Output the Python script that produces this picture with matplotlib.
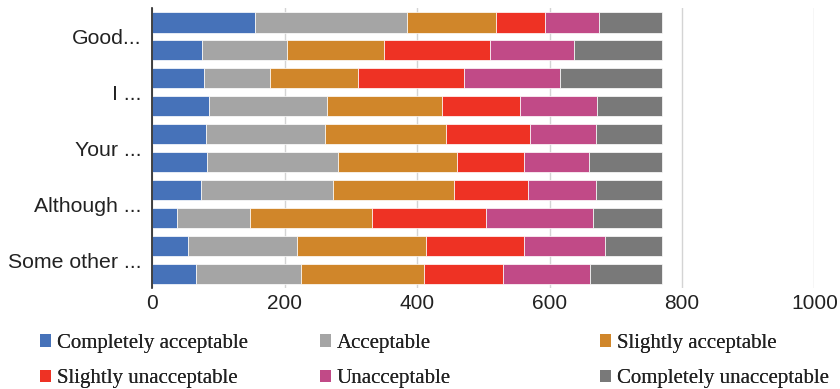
import matplotlib
matplotlib.use("Agg")
from matplotlib import pyplot as plt
from matplotlib.patches import Patch
import numpy as np

SERIES = ["Completely acceptable", "Acceptable", "Slightly acceptable",
          "Slightly unacceptable", "Unacceptable", "Completely unacceptable"]
COLORS = ["#4672B9", "#A5A5A5", "#D0862A", "#EE3224", "#C14A87", "#797979"]
GROUP_LABELS = ["Good...", "I ...", "Your ...", "Although ...", "Some other ..."]

# one row per bar (top to bottom), one column per response level
completely_acceptable = [155, 75, 78, 86, 81, 82, 73, 37, 54, 66]
acceptable = [230, 128, 100, 178, 180, 198, 200, 111, 164, 159]
slightly_acceptable = [134, 147, 133, 173, 182, 180, 182, 184, 196, 185]
slightly_unacceptable = [74, 160, 160, 118, 127, 101, 113, 172, 147, 119]
unacceptable = [81, 127, 145, 117, 100, 99, 102, 161, 122, 132]
completely_unacceptable = [96, 133, 154, 98, 100, 110, 100, 105, 87, 109]

values = [completely_acceptable, acceptable, slightly_acceptable,
          slightly_unacceptable, unacceptable, completely_unacceptable]

fig = plt.figure(figsize=(8.4, 3.89), dpi=100)
ax = fig.add_axes([0.1814, 0.259, 0.7881, 0.7197])

y = np.arange(len(completely_acceptable))
left = np.zeros(len(y))
for vals, color, name in zip(values, COLORS, SERIES):
    ax.barh(y, vals, left=left, height=0.73, color=color,
            edgecolor="white", linewidth=0.5, label=name, zorder=2)
    left += np.array(vals)

ax.set_xlim(0, 1000)
ax.set_ylim(len(y) - 0.5, -0.5)
ax.set_xticks([0, 200, 400, 600, 800, 1000])
ax.set_yticks(np.arange(0.5, len(y), 2))
ax.set_yticklabels(GROUP_LABELS)
ax.grid(axis="x", color="#D4D4D4", linewidth=1, zorder=0)
for side in ["top", "right", "bottom"]:
    ax.spines[side].set_visible(False)
ax.spines["left"].set_color("#222222")
ax.spines["left"].set_linewidth(1.2)
ax.spines["left"].set_zorder(3)
ax.tick_params(axis="y", length=0, pad=8, labelsize=15.3, labelcolor="#222222")
ax.tick_params(axis="x", length=0, pad=4, labelsize=15, labelcolor="#222222")
for lab in ax.get_xticklabels() + ax.get_yticklabels():
    lab.set_fontfamily("Liberation Sans")

# legend: three columns of two entries
col_x = [40, 320, 600]
for c in range(3):
    idx = [c, c + 3]
    handles = [Patch(facecolor=COLORS[i]) for i in idx]
    leg = fig.legend(handles, [SERIES[i] for i in idx],
                     loc="center left", bbox_to_anchor=(col_x[c] / 840, 1 - 361 / 389),
                     frameon=False, borderpad=0, borderaxespad=0,
                     handlelength=0.55, handleheight=0.55, handletextpad=0.25,
                     labelspacing=0.8,
                     prop={"family": "Liberation Serif", "size": 15})
    for t in leg.get_texts():
        t.set_color("#222222")
    fig.add_artist(leg)

fig.savefig("out.png", dpi=100)
